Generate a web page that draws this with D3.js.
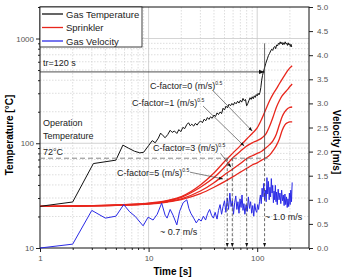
<!DOCTYPE html>
<html>
<head>
<meta charset="utf-8">
<script src="https://cdn.jsdelivr.net/npm/d3@7"></script>
<style>
  body { margin: 0; background: #fff; }
  text { font-family: "Liberation Sans", Arial, sans-serif; }
</style>
</head>
<body>
<div id="chart"></div>
<script>
document.addEventListener('DOMContentLoaded', init, false);

var W = 343;
var H = 277;
var margin = { top: 7, right: 34, bottom: 29, left: 40 };
var width = W - margin.left - margin.right;
var height = H - margin.top - margin.bottom;

// axis ticks
var timeMajor = [1, 10, 100];
var timeMinor = [2, 3, 4, 5, 6, 7, 8, 9, 20, 30, 40, 50, 60, 70, 80, 90, 200, 300];
var tempMajor = [10, 100, 1000];
var tempMinor = [20, 30, 40, 50, 60, 70, 80, 90, 200, 300, 400, 500, 600, 700, 800, 900, 2000];
var velTicks = [0, 0.5, 1, 1.5, 2, 2.5, 3, 3.5, 4, 4.5, 5];

// gas temperature [°C] vs time [s]
var gasTime = [1, 2, 3.1, 5, 5.8, 6.5, 7.4, 8.3, 9, 10, 10.8, 11.5, 12.3, 12.9, 13.6, 14.2, 15, 15.8,
  16.5, 17.3, 18.2, 19, 19.8, 20.7, 21.5, 22.4, 23.3, 24.2, 25, 26, 27, 28, 29, 30.2, 31.3, 32.5,
  33.6, 34.8, 36, 37.2, 38.5, 40, 41.3, 42.7, 44, 45.6, 47, 48.5, 50, 51.6, 53.2, 55, 56.8, 58.5,
  60.3, 62, 64, 66, 68, 70, 72, 74, 76, 78, 80, 82, 84, 86, 88, 90, 92, 94, 96, 98, 100, 102, 104,
  106, 108, 110, 112, 114, 116, 118, 120, 122, 124, 127, 130, 133, 136, 139, 142, 145, 148, 151,
  154, 157, 160, 163, 166, 169, 172, 175, 178, 181, 184, 187, 190, 193, 196, 199, 202, 205, 208];
var gasTemp = [25, 27.5, 64, 69, 96, 90, 84, 81, 82, 95, 106, 101, 112, 125, 118, 113, 121, 133,
  127, 131, 124, 135, 129, 142, 138, 150, 157, 147, 152, 146, 155, 149, 158, 163, 157, 170,
  164, 176, 169, 179, 173, 186, 180, 195, 188, 199, 192, 216, 208, 226, 218, 236, 228, 240,
  231, 246, 238, 252, 242, 257, 247, 268, 255, 262, 228, 240, 256, 272, 262, 278, 266, 284, 274, 292, 283, 300, 290,
  305, 340, 400, 445, 480, 510, 545, 580, 610, 640, 690, 720, 760, 790, 770, 820, 840, 800, 870,
  850, 900, 880, 930, 890, 920, 870, 910, 880, 930, 890, 900, 860, 910, 870, 890, 840, 880, 830];

// sprinkler link temperature [°C] for C-factor 0, 1, 3, 5 (m/s)^0.5
var sprTime = [1, 5, 10, 15, 20, 30, 40, 50, 60, 70, 81, 90, 100, 110, 120, 130, 140, 150, 160, 170, 180, 190, 200, 210];
var sprC0 = [25, 25.8, 26.8, 28.5, 31, 40, 52, 67, 81, 95, 111, 124, 140, 170, 210, 255, 295, 330, 370, 410, 450, 490, 525, 550];
var sprC1 = [25, 25.7, 26.6, 28.2, 30.5, 38, 47, 59, 73, 84, 95, 101, 106, 112, 122, 145, 178, 220, 255, 285, 305, 325, 348, 368];
var sprC3 = [25, 25.6, 26.4, 27.8, 29.5, 35, 42, 50, 57, 64, 72, 76, 80, 84, 90, 97, 106, 122, 150, 180, 200, 214, 220, 222];
var sprC5 = [25, 25.5, 26.2, 27.5, 29, 33, 38, 43, 48, 53, 58, 62, 65, 69, 72.5, 77, 85, 95, 110, 133, 150, 157, 160, 160];

// gas velocity [m/s] vs time [s]
var velTime = [1, 2, 3, 4, 5, 5.9, 6.7, 7.5, 8.9, 9.9, 11, 12, 13.2, 14.2, 14.8, 15.8, 16.8, 18.2, 19.3,
  20.8, 22.5, 23.5, 24.5, 26, 27.5, 29, 30.5, 32, 33.5, 35, 36.5, 38, 39.5, 41, 42.7, 44, 45.5, 47,
  48.5, 50, 51.5, 53, 54.5, 56, 57.5, 59, 60.5, 62, 63.5, 65, 66.5, 68, 69.5, 71, 72.5, 74, 75.5, 77,
  79, 81, 83, 85, 87, 89, 91, 93, 95, 97, 99, 101, 103, 105, 107, 109, 111, 113, 115, 117, 119, 121,
  123, 125, 127, 129, 131, 133, 135, 137, 139, 141, 143, 145, 147, 149, 151, 153, 156, 159, 162, 165,
  168, 171, 174, 177, 180, 183, 186, 189, 192, 195, 198, 201, 204, 207, 210];
var velValue = [0, 0.08, 0.78, 0.62, 0.66, 0.9, 0.75, 0.66, 0.46, 0.64, 0.58, 0.7, 0.93, 0.68, 0.62, 0.8, 0.68, 0.48, 0.76,
  0.94, 1.0, 0.82, 0.72, 0.62, 0.52, 0.6, 0.56, 0.66, 0.58, 0.72, 0.8, 0.68, 0.62, 0.74, 0.6, 0.78, 0.9, 0.7,
  0.86, 0.98, 0.74, 1.04, 0.8, 1.14, 0.86, 0.98, 0.7, 0.94, 1.08, 0.8, 0.96, 0.72, 1.02, 0.84, 1.1, 0.78, 0.92, 0.7,
  0.9, 0.76, 1.06, 0.82, 0.96, 0.72, 0.88, 0.66, 0.92, 0.78, 0.74, 0.9, 0.8, 0.96, 1.1, 0.92, 1.24, 1.06, 1.34, 1.0, 1.2, 0.96,
  1.46, 1.12, 1.38, 1.0, 1.26, 1.06, 1.44, 1.14, 1.3, 0.94, 1.18, 1.0, 1.3, 0.96, 1.16, 0.9, 1.22, 1.0, 1.14, 0.92,
  1.2, 0.98, 1.1, 0.88, 1.12, 0.9, 1.06, 0.84, 1.02, 0.86, 1.14, 0.9, 1.2, 0.96, 1.36];

// sprinkler activation times [s] (link reaches 72 °C)
var activation = [53, 59, 80, 117];
var operationTemp = 72;

var legendNames = ['Gas Temperature', 'Sprinkler', 'Gas Velocity'];
var legendColors = ['#111', '#e8261c', '#2a2ae6'];

function init() {

  var svg = d3.select('#chart')
    .append('svg')
      .attr('width', W)
      .attr('height', H);

  var chart = svg.append('g')
    .attr('transform', 'translate(' + margin.left + ',' + margin.top + ')');

  var scale = {
    x: d3.scaleLog().domain([1, 300]).range([0, width]),
    y: d3.scaleLog().domain([10, 2000]).range([height, 0]),
    v: d3.scaleLinear().domain([0, 5]).range([height, 0])
  };

  defineMarkers(svg);
  drawGrid(chart, scale);
  drawAxes(chart, scale);
  drawSeries(chart, scale);
  drawAnnotations(chart, scale);
  drawLegend(chart);
}

function defineMarkers(svg) {

  var defs = svg.append('defs');

  defs.append('marker')
      .attr('id', 'arrow')
      .attr('viewBox', '0 0 8 6')
      .attr('refX', 8)
      .attr('refY', 3)
      .attr('markerUnits', 'userSpaceOnUse')
      .attr('markerWidth', 6)
      .attr('markerHeight', 5)
      .attr('orient', 'auto')
    .append('path')
      .attr('d', 'M0,0 L8,3 L0,6 Z')
      .attr('fill', '#111');

  defs.append('marker')
      .attr('id', 'arrowSmall')
      .attr('viewBox', '0 0 8 6')
      .attr('refX', 8)
      .attr('refY', 3)
      .attr('markerUnits', 'userSpaceOnUse')
      .attr('markerWidth', 4)
      .attr('markerHeight', 4)
      .attr('orient', 'auto')
    .append('path')
      .attr('d', 'M0,0 L8,3 L0,6 Z')
      .attr('fill', '#111');
}

function drawGrid(chart, scale) {

  var grid = chart.append('g');

  grid.selectAll('.vminor')
      .data(timeMinor.filter(function (d) { return d < 300; }))
      .enter()
    .append('line')
      .attr('x1', function (d) { return scale.x(d); })
      .attr('x2', function (d) { return scale.x(d); })
      .attr('y1', 0)
      .attr('y2', height)
      .attr('stroke', '#cfcfcf')
      .attr('stroke-width', 0.7)
      .attr('stroke-dasharray', '1.5,1.5');

  grid.selectAll('.hminor')
      .data(tempMinor.filter(function (d) { return d < 2000; }))
      .enter()
    .append('line')
      .attr('x1', 0)
      .attr('x2', width)
      .attr('y1', function (d) { return scale.y(d); })
      .attr('y2', function (d) { return scale.y(d); })
      .attr('stroke', '#cfcfcf')
      .attr('stroke-width', 0.7)
      .attr('stroke-dasharray', '1.5,1.5');

  grid.selectAll('.vmajor')
      .data([10, 100])
      .enter()
    .append('line')
      .attr('x1', function (d) { return scale.x(d); })
      .attr('x2', function (d) { return scale.x(d); })
      .attr('y1', 0)
      .attr('y2', height)
      .attr('stroke', '#c8c8c8')
      .attr('stroke-width', 0.8);

  grid.selectAll('.hmajor')
      .data([100, 1000])
      .enter()
    .append('line')
      .attr('x1', 0)
      .attr('x2', width)
      .attr('y1', function (d) { return scale.y(d); })
      .attr('y2', function (d) { return scale.y(d); })
      .attr('stroke', '#c8c8c8')
      .attr('stroke-width', 0.8);
}

function styleAxis(g) {
  g.select('.domain').remove();
  g.selectAll('line').attr('stroke', '#222');
  g.selectAll('text')
    .attr('fill', '#555')
    .style('font-size', '8px')
    .style('font-family', '"Liberation Sans", Arial, sans-serif');
}

function drawAxes(chart, scale) {

  chart.append('g')
      .attr('transform', 'translate(0,' + height + ')')
      .call(d3.axisBottom(scale.x).tickValues(timeMajor).tickSize(4).tickPadding(3).tickFormat(d3.format('d')))
      .call(styleAxis);

  chart.append('g')
      .attr('transform', 'translate(0,' + height + ')')
      .call(d3.axisBottom(scale.x).tickValues(timeMinor).tickSize(2).tickFormat(''))
      .call(styleAxis);

  chart.append('g')
      .call(d3.axisLeft(scale.y).tickValues(tempMajor).tickSize(4).tickPadding(2).tickFormat(d3.format('d')))
      .call(styleAxis);

  chart.append('g')
      .call(d3.axisLeft(scale.y).tickValues(tempMinor).tickSize(2).tickFormat(''))
      .call(styleAxis);

  chart.append('g')
      .attr('transform', 'translate(' + width + ',0)')
      .call(d3.axisRight(scale.v).tickValues(velTicks).tickSize(4).tickPadding(4).tickFormat(d3.format('.1f')))
      .call(styleAxis);

  chart.append('rect')
      .attr('x', 0)
      .attr('y', 0)
      .attr('width', width)
      .attr('height', height)
      .attr('fill', 'none')
      .attr('stroke', '#111')
      .attr('stroke-width', 1);

  chart.append('text')
      .attr('x', width / 2 - 2)
      .attr('y', height + 27)
      .attr('text-anchor', 'middle')
      .style('font-size', '10px')
      .style('font-weight', 'bold')
      .text('Time [s]');

  chart.append('text')
      .attr('transform', 'translate(' + (-27) + ',' + 128 + ') rotate(-90)')
      .attr('text-anchor', 'middle')
      .style('font-size', '10px')
      .style('font-weight', 'bold')
      .text('Temperature [°C]');

  chart.append('text')
      .attr('transform', 'translate(' + (width + 24) + ',' + 135 + ') rotate(90)')
      .attr('text-anchor', 'middle')
      .style('font-size', '10px')
      .style('font-weight', 'bold')
      .text('Velocity [m/s]');
}

function drawSeries(chart, scale) {

  var tempLine = d3.line()
    .x(function (d) { return scale.x(d[0]); })
    .y(function (d) { return scale.y(d[1]); });

  var sprLine = d3.line()
    .x(function (d) { return scale.x(d[0]); })
    .y(function (d) { return scale.y(d[1]); })
    .curve(d3.curveMonotoneX);

  var velLine = d3.line()
    .x(function (d) { return scale.x(d[0]); })
    .y(function (d) { return scale.v(d[1]); });

  [sprC0, sprC1, sprC3, sprC5].forEach(function (values) {
    chart.append('path')
      .attr('fill', 'none')
      .attr('stroke', legendColors[1])
      .attr('stroke-width', 1.3)
      .attr('d', sprLine(d3.zip(sprTime, values)));
  });

  chart.append('path')
    .attr('fill', 'none')
    .attr('stroke', legendColors[0])
    .attr('stroke-width', 1)
    .attr('d', tempLine(d3.zip(gasTime, gasTemp)));

  chart.append('path')
    .attr('fill', 'none')
    .attr('stroke', legendColors[2])
    .attr('stroke-width', 1)
    .attr('d', velLine(d3.zip(velTime, velValue)));
}

function cLabel(chart, x, y, c) {
  var t = chart.append('text')
      .attr('x', x)
      .attr('y', y)
      .attr('fill', '#222')
      .style('font-size', '9px')
      .text('C-factor=' + c + ' (m/s)');
  t.append('tspan')
      .attr('dy', -4)
      .style('font-size', '5px')
      .text('0.5');
}

function drawAnnotations(chart, scale) {

  // operation temperature line
  chart.append('line')
      .attr('x1', 0)
      .attr('x2', scale.x(125))
      .attr('y1', scale.y(operationTemp))
      .attr('y2', scale.y(operationTemp))
      .attr('stroke', '#888')
      .attr('stroke-width', 1)
      .attr('stroke-dasharray', '5,3');

  // activation drop lines
  chart.selectAll('.act')
      .data(activation)
      .enter()
    .append('line')
      .attr('x1', function (d) { return scale.x(d); })
      .attr('x2', function (d) { return scale.x(d); })
      .attr('y1', scale.y(operationTemp))
      .attr('y2', height - 1)
      .attr('stroke', '#444')
      .attr('stroke-width', 0.8)
      .attr('stroke-dasharray', '3,2')
      .attr('marker-end', 'url(#arrowSmall)');

  // tr = 120 s marker
  chart.append('line')
      .attr('x1', scale.x(117))
      .attr('x2', scale.x(117))
      .attr('y1', scale.y(900))
      .attr('y2', scale.y(operationTemp))
      .attr('stroke', '#444')
      .attr('stroke-width', 0.8);

  chart.append('line')
      .attr('x1', 0)
      .attr('x2', scale.x(117))
      .attr('y1', scale.y(480))
      .attr('y2', scale.y(480))
      .attr('stroke', '#222')
      .attr('stroke-width', 0.8)
      .attr('marker-end', 'url(#arrow)');

  chart.append('text')
      .attr('x', 3)
      .attr('y', 59)
      .attr('fill', '#222')
      .style('font-size', '9px')
      .text('tr=120 s');

  chart.append('text')
      .attr('x', 3)
      .attr('y', 119)
      .attr('fill', '#222')
      .style('font-size', '9px')
      .text('Operation');

  chart.append('text')
      .attr('x', 3)
      .attr('y', 132)
      .attr('fill', '#222')
      .style('font-size', '9px')
      .text('Temperature');

  chart.append('text')
      .attr('x', 3)
      .attr('y', 148)
      .attr('fill', '#222')
      .style('font-size', '9px')
      .text('72°C');

  cLabel(chart, 110, 82, 0);
  cLabel(chart, 92, 99, 1);
  cLabel(chart, 113, 144, 3);
  cLabel(chart, 77, 169, 5);

  // leader lines [t1, T1, t2, T2]
  var leaders = [
    [39.4, 316, 90, 131],
    [31.7, 227, 76, 94],
    [46, 80, 57.5, 59],
    [24, 53, 48.5, 45.6]
  ];

  chart.selectAll('.leader')
      .data(leaders)
      .enter()
    .append('line')
      .attr('x1', function (d) { return scale.x(d[0]); })
      .attr('y1', function (d) { return scale.y(d[1]); })
      .attr('x2', function (d) { return scale.x(d[2]); })
      .attr('y2', function (d) { return scale.y(d[3]); })
      .attr('stroke', '#333')
      .attr('stroke-width', 0.6)
      .attr('marker-end', 'url(#arrowSmall)');

  chart.append('text')
      .attr('x', 120)
      .attr('y', 228)
      .attr('fill', '#222')
      .style('font-size', '9px')
      .text('~ 0.7 m/s');

  chart.append('text')
      .attr('x', 225)
      .attr('y', 213)
      .attr('fill', '#222')
      .style('font-size', '9px')
      .text('~ 1.0 m/s');
}

function drawLegend(chart) {

  var legend = chart.append('g');

  legend.append('rect')
      .attr('x', 0)
      .attr('y', 0)
      .attr('width', 102)
      .attr('height', 40)
      .attr('fill', '#fff')
      .attr('stroke', '#111')
      .attr('stroke-width', 0.8);

  var items = legend.selectAll('.item')
      .data(legendNames)
      .enter()
    .append('g')
      .attr('transform', function (d, i) { return 'translate(0,' + (7 + i * 13.5) + ')'; });

  items.append('line')
      .attr('x1', 2)
      .attr('x2', 23)
      .attr('y1', 0)
      .attr('y2', 0)
      .attr('stroke', function (d, i) { return legendColors[i]; })
      .attr('stroke-width', 1.3);

  items.append('text')
      .attr('x', 26)
      .attr('y', 3.5)
      .attr('fill', '#222')
      .style('font-size', '9.5px')
      .text(function (d) { return d; });
}
</script>
</body>
</html>
